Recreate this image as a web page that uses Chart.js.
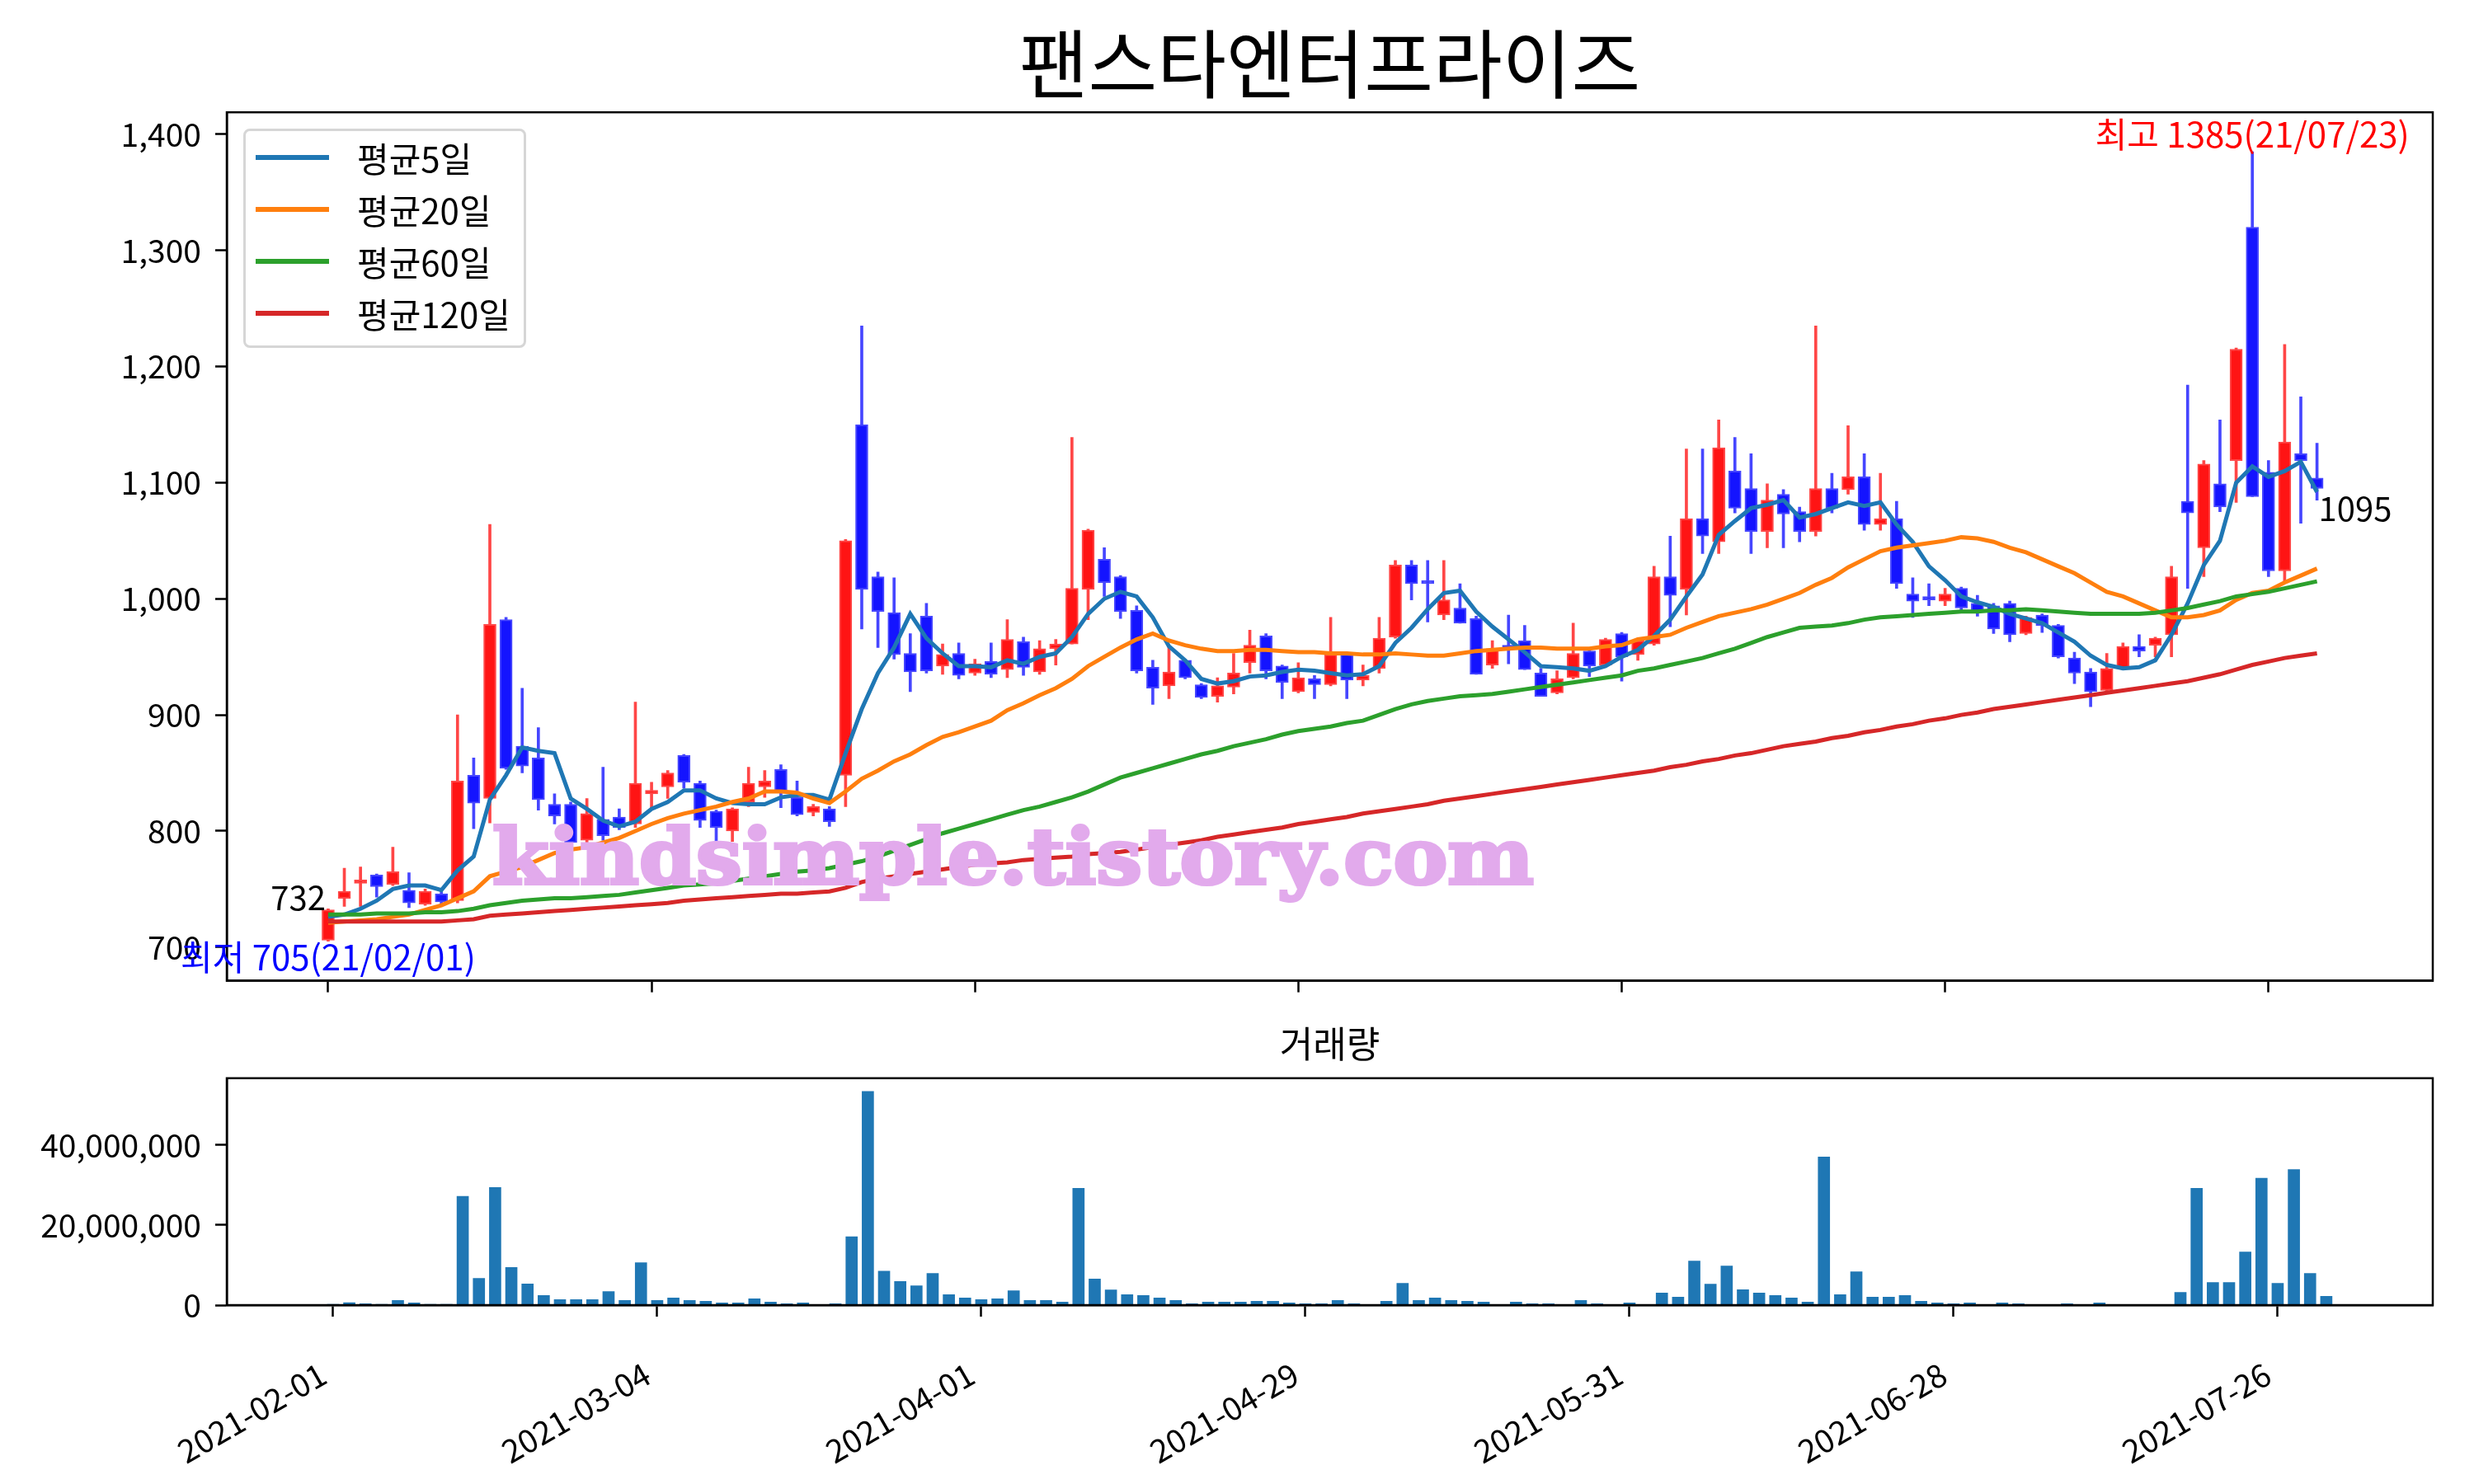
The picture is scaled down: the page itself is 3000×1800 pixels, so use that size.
<!DOCTYPE html>
<html>
<head>
<meta charset="utf-8">
<script src="https://cdn.jsdelivr.net/npm/chart.js@4.4.1/dist/chart.umd.min.js"></script>
<style>
  html, body { margin: 0; padding: 0; background: #fff; }
  #wrap { position: relative; width: 3000px; height: 1800px; }
  #main { position: absolute; left: 0; top: 0; }
  #vol { position: absolute; left: 0; top: 1230px; }
  #legend { position: absolute; left: 295px; top: 156px; width: 343px; height: 266px;
            box-sizing: border-box; border: 3px solid #d6d6d6; border-radius: 8px;
            background: rgba(255,255,255,0.85); font-family: 'Noto Sans CJK KR', sans-serif; font-size: 42px; color: #000; }
  .sw { position: absolute; left: 12px; width: 89px; height: 6px; }
  .lb { position: absolute; left: 135px; height: 50px; line-height: 50px; white-space: nowrap; }
</style>
</head>
<body>
<div id="wrap">
  <canvas id="main" width="3000" height="1230"></canvas>
  <canvas id="vol" width="3000" height="570"></canvas>
  <div id="legend"></div>
</div>
<script>
// trading days
var dates = [
 '2021-02-01','2021-02-02','2021-02-03','2021-02-04','2021-02-05','2021-02-08','2021-02-09','2021-02-10','2021-02-15','2021-02-16',
 '2021-02-17','2021-02-18','2021-02-19','2021-02-22','2021-02-23','2021-02-24','2021-02-25','2021-02-26','2021-03-02','2021-03-03',
 '2021-03-04','2021-03-05','2021-03-08','2021-03-09','2021-03-10','2021-03-11','2021-03-12','2021-03-15','2021-03-16','2021-03-17',
 '2021-03-18','2021-03-19','2021-03-22','2021-03-23','2021-03-24','2021-03-25','2021-03-26','2021-03-29','2021-03-30','2021-03-31',
 '2021-04-01','2021-04-02','2021-04-05','2021-04-06','2021-04-07','2021-04-08','2021-04-09','2021-04-12','2021-04-13','2021-04-14',
 '2021-04-15','2021-04-16','2021-04-19','2021-04-20','2021-04-21','2021-04-22','2021-04-23','2021-04-26','2021-04-27','2021-04-28',
 '2021-04-29','2021-04-30','2021-05-03','2021-05-04','2021-05-06','2021-05-07','2021-05-10','2021-05-11','2021-05-12','2021-05-13',
 '2021-05-14','2021-05-17','2021-05-18','2021-05-20','2021-05-21','2021-05-24','2021-05-25','2021-05-26','2021-05-27','2021-05-28',
 '2021-05-31','2021-06-01','2021-06-02','2021-06-03','2021-06-04','2021-06-07','2021-06-08','2021-06-09','2021-06-10','2021-06-11',
 '2021-06-14','2021-06-15','2021-06-16','2021-06-17','2021-06-18','2021-06-21','2021-06-22','2021-06-23','2021-06-24','2021-06-25',
 '2021-06-28','2021-06-29','2021-06-30','2021-07-01','2021-07-02','2021-07-05','2021-07-06','2021-07-07','2021-07-08','2021-07-09',
 '2021-07-12','2021-07-13','2021-07-14','2021-07-15','2021-07-16','2021-07-19','2021-07-20','2021-07-21','2021-07-22','2021-07-23',
 '2021-07-26','2021-07-27','2021-07-28','2021-07-29'];

var openP = [706,742,755,762,754,749,737,746,740,848,
 828,982,873,863,823,823,792,810,812,806,
 832,838,865,841,817,800,825,838,853,829,
 816,819,848,1150,1019,988,953,985,942,953,
 936,946,939,963,937,957,961,1008,1034,1019,
 990,941,925,947,926,916,924,945,968,942,
 920,931,926,952,930,940,967,1029,1014,986,
 992,983,943,960,964,936,919,932,955,943,
 970,952,961,1019,1008,1069,1049,1110,1095,1058,
 1090,1075,1058,1095,1094,1105,1064,1069,1004,1000,
 998,1009,996,994,996,970,986,977,949,937,
 921,940,959,960,969,1084,1044,1099,1119,1320,
 1109,1024,1125,1104];
var highP = [733,768,769,763,786,764,750,749,900,863,
 1064,984,923,889,832,825,828,855,819,911,
 842,852,866,843,818,820,855,852,857,843,
 823,821,1051,1235,1023,1018,970,996,961,962,
 948,962,982,967,964,965,1139,1060,1044,1020,
 994,947,959,948,927,932,953,973,970,943,
 945,934,984,953,943,984,1033,1033,1033,1033,
 1013,985,964,986,977,940,938,979,956,966,
 971,966,1028,1054,1129,1129,1154,1139,1125,1099,
 1094,1079,1235,1108,1149,1125,1108,1084,1018,1013,
 1009,1010,1003,996,998,985,987,978,954,940,
 953,962,969,967,1028,1184,1119,1154,1216,1385,
 1119,1219,1174,1134];
var lowP = [705,735,735,743,753,734,736,737,738,802,
 807,853,850,818,806,786,788,792,801,803,
 820,828,837,803,790,791,821,829,820,813,
 813,804,821,974,958,948,920,936,935,931,
 934,932,932,934,935,943,961,982,1002,983,
 936,909,914,931,914,911,918,936,931,914,
 919,914,925,914,925,936,966,999,980,982,
 979,935,940,944,939,916,918,931,933,942,
 929,947,960,976,986,1039,1039,1074,1039,1044,
 1044,1049,1054,1074,1090,1059,1059,1009,984,994,
 994,990,985,970,963,969,971,949,927,907,
 920,939,950,950,950,1009,1019,1075,1083,1088,
 1019,1014,1065,1085];
var closeP = [732,748,757,752,765,738,748,739,843,824,
 978,854,856,827,813,790,815,796,803,841,
 835,850,842,809,803,819,841,843,834,814,
 821,808,1050,1008,989,952,937,938,952,934,
 944,935,965,941,957,961,1009,1059,1014,989,
 938,923,937,932,915,925,936,960,938,928,
 932,926,952,930,934,966,1029,1013,1013,999,
 979,935,957,957,939,916,931,953,942,965,
 950,964,1019,1003,1069,1054,1130,1078,1058,1085,
 1073,1058,1095,1078,1105,1064,1069,1013,998,999,
 1004,992,989,974,969,984,977,950,936,920,
 940,959,955,966,1019,1074,1116,1079,1215,1088,
 1024,1135,1119,1095];

var volume = [200000,600000,350000,200000,1160000,550000,200000,200000,27200000,6700000,
 29400000,9400000,5300000,2400000,1370000,1370000,1370000,3400000,1160000,10600000,
 1160000,1780000,1160000,960000,550000,550000,1570000,750000,340000,550000,
 140000,340000,17100000,53400000,8500000,5900000,4850000,7900000,2600000,1780000,
 1370000,1570000,3600000,1160000,1160000,750000,29200000,6500000,3800000,2600000,
 2400000,1780000,1160000,340000,750000,750000,750000,960000,960000,550000,
 340000,340000,1160000,340000,140000,960000,5460000,1160000,1780000,1160000,
 960000,750000,140000,750000,340000,340000,140000,1160000,340000,140000,
 550000,140000,3000000,1980000,11000000,5260000,9770000,3830000,3000000,2390000,
 1780000,750000,37000000,2600000,8330000,1980000,1980000,2390000,960000,550000,
 340000,550000,140000,550000,340000,140000,50000,340000,140000,550000,
 50000,50000,50000,140000,3200000,29200000,5670000,5670000,13250000,31700000,
 5460000,33900000,7900000,2190000];

var ma5 = [726,728,733,740,750,753,753,749,766,778,
 827,848,872,869,867,828,819,809,804,808,
 819,825,835,835,828,824,823,823,829,831,
 831,827,867,905,936,958,987,966,953,942,
 942,941,947,944,950,953,967,987,1000,1006,
 1002,984,959,947,931,927,929,933,934,937,
 939,938,936,934,935,942,962,975,991,1005,
 1007,989,976,965,954,942,941,940,938,942,
 950,956,968,982,1002,1021,1055,1067,1078,1081,
 1085,1070,1073,1078,1083,1080,1083,1064,1049,1028,
 1016,1002,997,993,987,983,979,971,963,951,
 943,940,941,947,969,996,1029,1050,1100,1114,
 1105,1110,1118,1092];
var ma20 = [721,722,723,724,726,728,732,736,742,748,
 761,765,769,775,781,784,786,790,794,800,
 806,811,815,818,821,825,828,834,834,833,
 828,824,834,845,852,860,866,874,881,885,
 890,895,904,910,917,923,931,942,950,958,
 965,970,964,960,957,955,955,956,956,955,
 954,954,953,953,952,952,953,952,951,951,
 953,955,956,957,958,958,957,957,957,959,
 960,965,967,969,975,980,985,988,991,995,
 1000,1005,1012,1018,1027,1034,1041,1044,1046,1048,
 1050,1053,1052,1049,1044,1040,1034,1028,1022,1014,
 1006,1002,996,990,984,984,986,990,999,1005,
 1007,1014,1020,1026];
var ma60 = [728,728,728,729,729,729,730,730,731,733,
 736,738,740,741,742,742,743,744,745,747,
 749,751,753,754,755,757,759,761,763,765,
 766,768,771,774,778,783,788,793,798,802,
 806,810,814,818,821,825,829,834,840,846,
 850,854,858,862,866,869,873,876,879,883,
 886,888,890,893,895,900,905,909,912,914,
 916,917,918,920,922,924,926,928,930,932,
 934,938,940,943,946,949,953,957,962,967,
 971,975,976,977,979,982,984,985,986,987,
 988,989,989,990,990,991,990,989,988,987,
 987,987,987,988,990,992,995,998,1002,1004,
 1006,1009,1012,1015];
var ma120 = [722,722,722,722,722,722,722,722,723,724,
 727,728,729,730,731,732,733,734,735,736,
 737,738,740,741,742,743,744,745,746,746,
 747,748,751,756,759,761,763,765,767,769,
 771,772,773,775,776,777,778,780,781,782,
 784,786,788,790,792,795,797,799,801,803,
 806,808,810,812,815,817,819,821,823,826,
 828,830,832,834,836,838,840,842,844,846,
 848,850,852,855,857,860,862,865,867,870,
 873,875,877,880,882,885,887,890,892,895,
 897,900,902,905,907,909,911,913,915,917,
 919,921,923,925,927,929,932,935,939,943,
 946,949,951,953];

var maLabels = ['평균5일', '평균20일', '평균60일', '평균120일'];
var maColors = ['#1f77b4', '#ff7f0e', '#2ca02c', '#d62728'];
var xTickLabels = ['2021-02-01','2021-03-04','2021-04-01','2021-04-29','2021-05-31','2021-06-28','2021-07-26'];
var priceTicks = [700, 800, 900, 1000, 1100, 1200, 1300, 1400];
var volumeTicks = [0, 20000000, 40000000];

Chart.defaults.font.family = "'Noto Sans CJK KR', 'Noto Sans', sans-serif";
Chart.defaults.font.size = 39;
Chart.defaults.color = '#000';

var up = closeP.map(function (c, i) { return c >= openP[i]; });
var bodyFill = up.map(function (u) { return u ? 'rgb(255,20,20)' : 'rgb(20,20,255)'; });
var edgeCol = up.map(function (u) { return u ? 'rgb(255,70,70)' : 'rgb(70,70,255)'; });

function pts(arr) { return arr.map(function (v, i) { return { x: i, y: v }; }); }
function comma(v) { return Number(v).toLocaleString('en-US'); }

var frame = {
  id: 'frame',
  afterDraw: function (chart) {
    var a = chart.chartArea, ctx = chart.ctx;
    ctx.save();
    ctx.strokeStyle = '#000';
    ctx.lineWidth = 2.5;
    ctx.strokeRect(a.left, a.top, a.right - a.left, a.bottom - a.top);
    ctx.restore();
  }
};

var notes = {
  id: 'notes',
  afterDraw: function (chart) {
    var ctx = chart.ctx, x = chart.scales.x, y = chart.scales.y;
    var last = closeP.length - 1;
    var hi = highP.indexOf(Math.max.apply(null, highP));
    var lo = lowP.indexOf(Math.min.apply(null, lowP));
    function d8(s) { return s.slice(2).replace(/-/g, '/'); }
    ctx.save();
    ctx.font = "40px 'Noto Sans CJK KR'";
    // first / last close
    ctx.fillStyle = '#000';
    ctx.textAlign = 'right'; ctx.textBaseline = 'alphabetic';
    ctx.fillText(String(closeP[0]), x.getPixelForValue(0) - 3, y.getPixelForValue(closeP[0]));
    ctx.textAlign = 'left'; ctx.textBaseline = 'top';
    ctx.fillText(String(closeP[last]), x.getPixelForValue(last) + 2, y.getPixelForValue(closeP[last]) + 4);
    // high / low
    ctx.font = "42px 'Noto Sans CJK KR'";
    ctx.textAlign = 'center';
    ctx.fillStyle = '#ff0000'; ctx.textBaseline = 'bottom';
    ctx.fillText('최고 ' + highP[hi] + '(' + d8(dates[hi]) + ')', x.getPixelForValue(hi), y.getPixelForValue(highP[hi]));
    ctx.fillStyle = '#0000ff'; ctx.textBaseline = 'top';
    ctx.fillText('최저 ' + lowP[lo] + '(' + d8(dates[lo]) + ')', x.getPixelForValue(lo), y.getPixelForValue(lowP[lo]) - 2);
    // watermark
    var wm = 'kindsimple.tistory.com';
    ctx.font = "bold 93px 'DejaVu Serif'";
    ctx.fillStyle = 'rgb(226,170,236)';
    ctx.strokeStyle = 'rgb(226,170,236)';
    ctx.lineWidth = 4;
    var w = ctx.measureText(wm).width;
    ctx.translate(597, 1072);
    ctx.scale(1263 / w, 1);
    ctx.textAlign = 'left'; ctx.textBaseline = 'alphabetic';
    ctx.fillText(wm, 0, 0);
    ctx.strokeText(wm, 0, 0);
    ctx.restore();
  }
};

var axisGrid = { offset: false, drawOnChartArea: false, drawTicks: true, tickLength: 14, tickColor: '#000', tickWidth: 2.5 };
var axisBorder = { display: true, color: '#000', width: 2.5 };

var datasets = maLabels.map(function (lbl, k) {
  return { type: 'line', label: lbl, data: pts([ma5, ma20, ma60, ma120][k]), borderColor: maColors[k],
           backgroundColor: maColors[k], borderWidth: 5, pointRadius: 0, tension: 0, order: 4 - k };
});
datasets.push({ label: 'body', data: dates.map(function (d, i) { return { x: i, y: [openP[i], closeP[i]] }; }),
  backgroundColor: bodyFill, borderColor: edgeCol, borderWidth: 2, borderSkipped: false,
  barThickness: 15, minBarLength: 4, grouped: false, order: 5 });
datasets.push({ label: 'wick', data: dates.map(function (d, i) { return { x: i, y: [lowP[i], highP[i]] }; }),
  backgroundColor: edgeCol, borderWidth: 0, barThickness: 3, grouped: false, order: 6 });

new Chart('main', {
  type: 'bar',
  data: { datasets: datasets },
  options: {
    responsive: false, animation: false, devicePixelRatio: 1,
    layout: { padding: { left: 0, right: 50, top: 0, bottom: 20 } },
    plugins: {
      legend: { display: false }, tooltip: { enabled: false },
      title: { display: true, text: '팬스타엔터프라이즈', fullSize: false, color: '#000',
               font: { size: 91, weight: 'normal' }, padding: { top: 23, bottom: 4 } }
    },
    scales: {
      x: { type: 'linear', min: -6.27, max: 130.16, offset: false, grid: axisGrid, border: axisBorder,
           ticks: { display: false },
           afterBuildTicks: function (ax) { ax.ticks = xTickLabels.map(function (l) { return { value: dates.indexOf(l) }; }); },
           afterFit: function (s) { s.height = 20; } },
      y: { min: 671, max: 1419, grid: axisGrid, border: axisBorder,
           ticks: { padding: 17, callback: comma },
           afterBuildTicks: function (ax) { ax.ticks = priceTicks.map(function (v) { return { value: v }; }); },
           afterFit: function (s) { s.width = 275; } }
    }
  },
  plugins: [frame, notes]
});

new Chart('vol', {
  type: 'bar',
  data: { datasets: [{ label: '거래량', data: pts(volume), backgroundColor: '#1f77b4', barThickness: 14 }] },
  options: {
    responsive: false, animation: false, devicePixelRatio: 1,
    layout: { padding: { left: 0, right: 50, top: 0, bottom: 0 } },
    plugins: {
      legend: { display: false }, tooltip: { enabled: false },
      title: { display: true, text: '거래량', fullSize: false, color: '#000',
               font: { size: 44, weight: 'normal' }, padding: { top: 10, bottom: 15 } }
    },
    scales: {
      x: { type: 'linear', min: -6.56, max: 129.57, offset: false, grid: axisGrid, border: axisBorder,
           ticks: { minRotation: 30, maxRotation: 30, autoSkip: false, padding: 46, labelOffset: -12,
                    callback: function (v) { return dates[v]; } },
           afterBuildTicks: function (ax) { ax.ticks = xTickLabels.map(function (l) { return { value: dates.indexOf(l) }; }); },
           afterFit: function (s) { s.height = 217; } },
      y: { min: 0, max: 56700000, grid: axisGrid, border: axisBorder,
           ticks: { padding: 17, callback: comma },
           afterBuildTicks: function (ax) { ax.ticks = volumeTicks.map(function (v) { return { value: v }; }); },
           afterFit: function (s) { s.width = 275; } }
    }
  },
  plugins: [frame]
});

// legend box
var legend = document.getElementById('legend');
maLabels.forEach(function (lbl, k) {
  var cy = 31.7 + 63 * k;
  var sw = document.createElement('div');
  sw.className = 'sw'; sw.style.top = (cy - 3) + 'px'; sw.style.background = maColors[k];
  var tx = document.createElement('div');
  tx.className = 'lb'; tx.style.top = (cy - 25) + 'px'; tx.textContent = lbl;
  legend.appendChild(sw); legend.appendChild(tx);
});
</script>
</body>
</html>
